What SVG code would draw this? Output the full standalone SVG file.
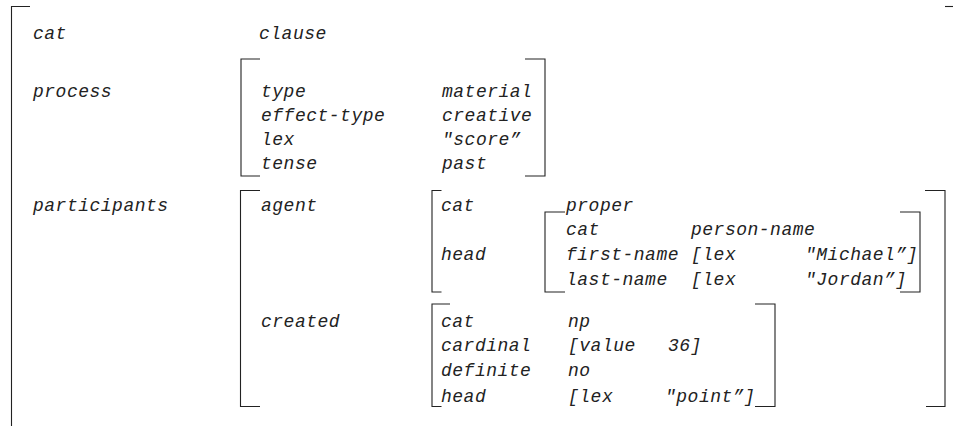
<svg xmlns="http://www.w3.org/2000/svg" width="953" height="426" viewBox="0 0 953 426">
  <style>
    text { font-family: "Liberation Mono", "Courier New", monospace; font-style: italic; font-size: 18px; letter-spacing: 0.5px; fill: #222; }
    .br { fill: none; stroke: #222; stroke-width: 1.1; }
  </style>
  <rect width="953" height="426" fill="#fff"/>

  <!-- outermost feature structure -->
  <g id="clause-avm">
    <path class="br" d="M30 6.5 H11.5 V426"/>
    <path class="br" d="M945 6.5 H953"/>
    <text x="33" y="39">cat</text>
    <text x="259" y="39">clause</text>
    <text x="33" y="97">process</text>
    <text x="33" y="211">participants</text>
  </g>

  <!-- process sub-structure -->
  <g id="process-avm">
    <path class="br" d="M260 59 H241 V176 H260"/>
    <path class="br" d="M525 59 H545 V176 H525"/>
    <text x="261" y="97">type</text>
    <text x="442" y="97">material</text>
    <text x="261" y="121">effect-type</text>
    <text x="442" y="121">creative</text>
    <text x="261" y="145">lex</text>
    <text x="442" y="145">"score”</text>
    <text x="261" y="169">tense</text>
    <text x="442" y="169">past</text>
  </g>

  <!-- participants sub-structure -->
  <g id="participants-avm">
    <path class="br" d="M260 190.5 H240.5 V406.5 H260"/>
    <path class="br" d="M925 190.5 H945 V406.5 H926"/>
    <text x="261" y="211">agent</text>
    <text x="261" y="327">created</text>
  </g>

  <!-- agent -->
  <g id="agent-avm">
    <path class="br" d="M441.5 190.5 H432 V292 H441.5"/>
    <text x="441" y="211">cat</text>
    <text x="566" y="211">proper</text>
    <text x="441" y="260">head</text>
  </g>

  <!-- agent head: person name -->
  <g id="agent-head-avm">
    <path class="br" d="M565 212 H545 V292 H565"/>
    <path class="br" d="M900 212 H920 V292 H900"/>
    <text x="566" y="235">cat</text>
    <text x="691" y="235">person-name</text>
    <text x="566" y="260">first-name</text>
    <text x="691" y="260">[lex</text>
    <text x="805" y="260">"Michael”]</text>
    <text x="566" y="285">last-name</text>
    <text x="691" y="285">[lex</text>
    <text x="805" y="285">"Jordan”]</text>
  </g>

  <!-- created -->
  <g id="created-avm">
    <path class="br" d="M450 304 H432 V406.5 H441.5"/>
    <path class="br" d="M755 304 H775 V406.5 H755"/>
    <text x="441" y="327">cat</text>
    <text x="568" y="327">np</text>
    <text x="441" y="351">cardinal</text>
    <text x="568" y="351">[value</text>
    <text x="668" y="351">36]</text>
    <text x="441" y="376">definite</text>
    <text x="568" y="376">no</text>
    <text x="441" y="402">head</text>
    <text x="568" y="402">[lex</text>
    <text x="665" y="402">"point”]</text>
  </g>
</svg>
